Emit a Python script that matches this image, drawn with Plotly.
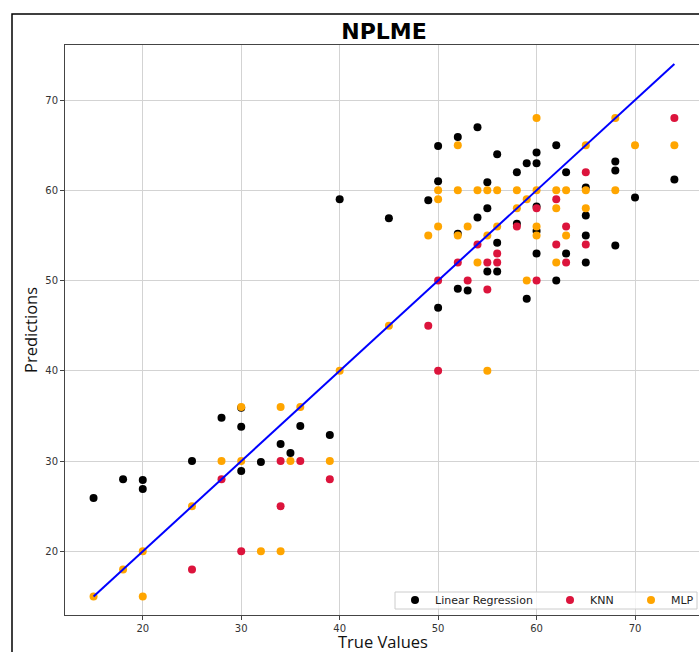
import plotly.graph_objects as go

# ---- data ----
lr_x = [15,18,20,20,25,28,30,30,30,32,34,35,36,39,40,45,49,50,50,50,52,52,52,53,54,54,55,55,55,56,56,56,58,58,59,59,60,60,60,60,60,62,62,63,63,65,65,65,65,68,68,68,70,74]
lr_y = [25.9,28,27.9,26.9,30,34.8,35.9,33.8,28.9,29.9,31.9,30.9,33.9,32.9,59,56.9,58.9,64.9,61,47,65.9,55.2,49.1,48.9,67,57,60.9,58,51,64,54.2,51,62,56.3,63,48,64.2,63,58.2,55.5,53,65,50,62,53,60.3,57.2,55,52,63.2,62.2,53.9,59.2,61.2]

knn_x = [25,28,30,34,34,36,39,49,50,50,52,53,54,55,55,56,56,58,60,60,62,62,63,63,65,65,74]
knn_y = [18,28,20,30,25,30,28,45,50,40,52,50,54,52,49,53,52,56,58,50,59,54,56,52,62,54,68]

mlp_x = [15,18,20,20,25,28,30,30,32,34,34,35,36,39,40,45,49,50,50,50,52,52,52,53,54,54,55,55,55,56,56,58,58,59,59,60,60,60,60,62,62,62,63,63,65,65,65,68,68,70,74]
mlp_y = [15,18,20,15,25,30,36,30,20,36,20,30,36,30,40,45,55,60,59,56,65,60,55,56,60,52,60,55,40,60,56,60,58,59,50,68,60,56,55,60,58,52,60,55,65,60,58,68,60,65,65]

x_ticks = [20, 30, 40, 50, 60, 70]
y_ticks = [20, 30, 40, 50, 60, 70]

all_true = lr_x + knn_x + mlp_x
ideal = [min(all_true), max(all_true)]

W, H = 699, 652
L, R, T, B = 65, 0, 45, 37
PW, PH = W - L - R, H - T - B


def px_x(page_px):
    """page pixel x -> paper x"""
    return (page_px - L) / PW


def px_y(page_py):
    """page pixel y -> paper y"""
    return (H - B - page_py) / PH


fig = go.Figure()
fig.add_trace(go.Scatter(x=lr_x, y=lr_y, mode="markers", name="Linear Regression",
                         marker=dict(color="black", size=8), legend="legend"))
fig.add_trace(go.Scatter(x=knn_x, y=knn_y, mode="markers", name="KNN",
                         marker=dict(color="#dc143c", size=8), legend="legend2"))
fig.add_trace(go.Scatter(x=mlp_x, y=mlp_y, mode="markers", name="MLP",
                         marker=dict(color="#ffa500", size=8), legend="legend3"))
fig.add_trace(go.Scatter(x=ideal, y=ideal, mode="lines", showlegend=False,
                         line=dict(color="blue", width=2)))

tickfont = dict(family="DejaVu Sans", size=10, color="#333")
legfont = dict(family="DejaVu Sans", size=11, color="#222")
labfont = dict(family="Open Sans", size=16.5, color="#111")

common_leg = dict(orientation="h", bgcolor="rgba(0,0,0,0)", borderwidth=0,
                  font=legfont, yanchor="middle", y=px_y(600), xanchor="left")

fig.update_layout(
    width=W, height=H,
    margin=dict(l=L, r=R, t=T, b=B),
    paper_bgcolor="white", plot_bgcolor="white",
    title=dict(text="<b>NPLME</b>", x=384 / W, xanchor="center",
               y=1 - 31 / H, yanchor="middle",
               font=dict(family="DejaVu Sans", size=22, color="black")),
    xaxis=dict(range=[12.1, 76.5], tickvals=x_ticks, showgrid=True, gridcolor="#d3d3d3",
               gridwidth=1, zeroline=False, showline=True, linecolor="#444", linewidth=1,
               mirror=True, ticks="outside", ticklen=4, tickcolor="#444", tickfont=tickfont),
    yaxis=dict(range=[12.95, 76.1], tickvals=y_ticks, showgrid=True, gridcolor="#d3d3d3",
               gridwidth=1, zeroline=False, showline=True, linecolor="#444", linewidth=1,
               mirror=False, ticks="outside", ticklen=4, tickcolor="#444", tickfont=tickfont),
    legend=dict(x=px_x(395), **common_leg),
    legend2=dict(x=px_x(550), **common_leg),
    legend3=dict(x=px_x(631), **common_leg),
    annotations=[
        dict(text="True Values", xref="paper", yref="paper", x=px_x(383), y=px_y(641),
             xanchor="center", yanchor="middle", showarrow=False, font=labfont),
        dict(text="Predictions", xref="paper", yref="paper", x=px_x(30), y=px_y(330),
             xanchor="center", yanchor="middle", showarrow=False, textangle=-90, font=labfont),
    ],
    shapes=[
        # legend frame
        dict(type="rect", xref="paper", yref="paper", layer="above",
             x0=px_x(395), x1=px_x(697), y0=px_y(609), y1=px_y(592),
             fillcolor="rgba(255,255,255,0.8)", line=dict(color="#cccccc", width=1)),
        # outer figure border
        dict(type="rect", xref="paper", yref="paper", layer="below",
             x0=px_x(12), x1=px_x(760), y0=px_y(700), y1=px_y(14),
             fillcolor="rgba(0,0,0,0)", line=dict(color="black", width=1.5)),
    ],
)

fig.write_html(
    "out.html",
    config={"displayModeBar": False},
    post_script="document.body.style.margin='0px';document.body.style.overflow='hidden';",
)
